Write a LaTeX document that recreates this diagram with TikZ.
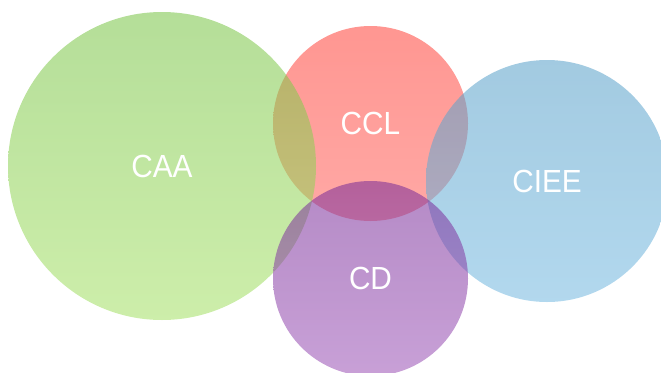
\documentclass[tikz,border=0pt]{standalone}
\usepackage{fontspec}
\newfontfamily\bubblefont[FakeStretch=0.93]{Liberation Sans}
\definecolor{caaTop}{RGB}{119,195,68}
\definecolor{caaBottom}{RGB}{164,224,100}
\definecolor{cclTop}{RGB}{255,64,55}
\definecolor{cclBottom}{RGB}{255,97,91}
\definecolor{cieeTop}{RGB}{86,159,200}
\definecolor{cieeBottom}{RGB}{115,184,224}
\definecolor{cdTop}{RGB}{119,42,151}
\definecolor{cdBottom}{RGB}{155,82,182}

\begin{document}
\begin{tikzpicture}[x=1pt, y=-1pt,
  bubble/.style={circle, inner sep=0pt, fill opacity=0.55, text opacity=1,
    text=white, font=\bubblefont\fontsize{32}{38}\selectfont}]
\useasboundingbox (0, 0) rectangle (661, 372);
\coordinate (CAAc) at (162, 166);
\coordinate (CCLc) at (370.5, 123.5);
\coordinate (CIEEc) at (547, 181);
\coordinate (CDc) at (370.5, 278.5);
\node[bubble, minimum size=195pt, top color=cclTop, bottom color=cclBottom] (CCL) at (CCLc) {CCL};
\node[bubble, minimum size=308pt, top color=caaTop, bottom color=caaBottom] (CAA) at (CAAc) {CAA};
\node[bubble, minimum size=242pt, top color=cieeTop, bottom color=cieeBottom] (CIEE) at (CIEEc) {CIEE};
\node[bubble, minimum size=195pt, top color=cdTop, bottom color=cdBottom] (CD) at (CDc) {CD};
\end{tikzpicture}
\end{document}
